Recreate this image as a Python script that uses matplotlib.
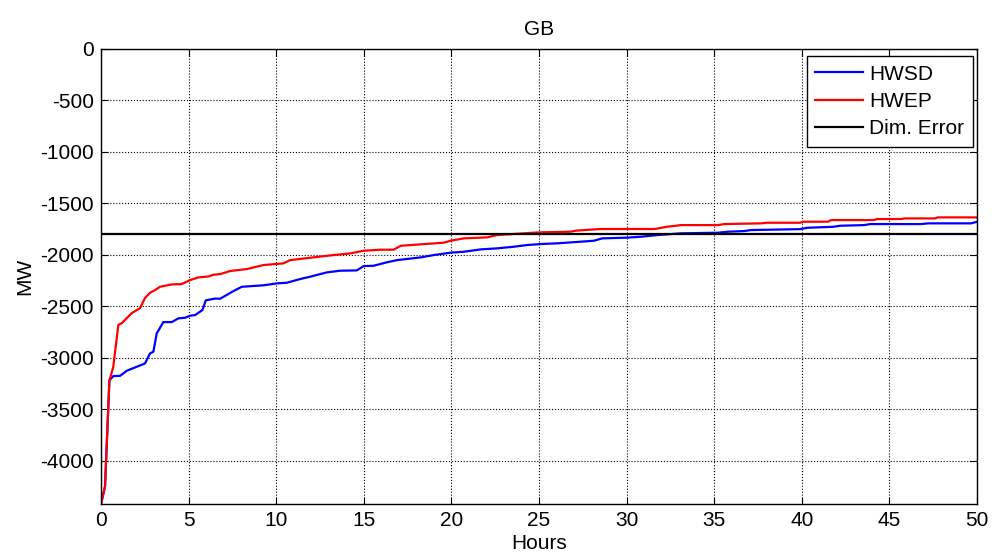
import numpy as np
import matplotlib.pyplot as plt

plt.rcParams['font.family'] = ['Liberation Sans', 'DejaVu Sans']
plt.rcParams['axes.unicode_minus'] = False

# HWSD curve (hours, MW)
hwsd_h = [0, 0.23, 0.48, 0.70, 1.09, 1.47, 1.94, 2.51, 2.80, 2.99, 3.18, 3.56, 4.04,
          4.42, 4.80, 5.09, 5.37, 5.79, 5.98, 6.51, 6.80, 7.56, 8.04, 9.27, 10.04,
          10.6, 11.37, 11.94, 12.9, 13.66, 14.6, 14.99, 15.56, 16.3, 16.9, 18.23,
          18.99, 19.94, 20.7, 21.66, 22.6, 23.56, 24.3, 25.09, 26.04, 26.8, 28.13,
          28.6, 30.0, 30.8, 31.75, 33.1, 35.2, 35.8, 36.7, 37.1, 38.4, 39.9, 40.3,
          41.8, 42.2, 43.56, 43.9, 46.8, 47.2, 49.66, 50]
hwsd_mw = [-4420, -4250, -3220, -3178, -3175, -3126, -3094, -3055, -2957, -2941,
           -2763, -2653, -2653, -2617, -2611, -2591, -2585, -2536, -2442, -2425,
           -2426, -2352, -2310, -2296, -2277, -2271, -2235, -2212, -2170, -2154,
           -2151, -2109, -2106, -2073, -2051, -2025, -2002, -1979, -1970, -1947,
           -1937, -1921, -1905, -1895, -1888, -1879, -1863, -1840, -1833, -1824,
           -1808, -1791, -1785, -1775, -1769, -1759, -1755, -1750, -1737, -1727,
           -1717, -1711, -1701, -1701, -1694, -1694, -1678]

# HWEP curve (hours, MW)
hwep_h = [0, 0.23, 0.48, 0.70, 0.99, 1.18, 1.47, 1.75, 2.23, 2.51, 2.80, 3.09, 3.37,
          4.04, 4.60, 5.09, 5.56, 6.13, 6.42, 6.80, 7.37, 8.32, 9.27, 10.4, 10.8,
          11.94, 13.27, 14.23, 14.99, 15.94, 16.7, 17.1, 18.23, 19.56, 19.94, 20.7,
          22.04, 22.6, 24.13, 25.09, 26.8, 27.1, 28.5, 31.6, 32.3, 33.1, 35.2, 35.56,
          37.66, 38.0, 39.9, 40.1, 41.5, 41.66, 44.1, 44.3, 45.7, 45.85, 47.6, 47.75, 50]
hwep_mw = [-4420, -4250, -3220, -3090, -2680, -2664, -2615, -2567, -2517, -2420,
           -2368, -2342, -2310, -2287, -2284, -2245, -2219, -2210, -2193, -2187,
           -2157, -2138, -2099, -2083, -2051, -2028, -2002, -1986, -1960, -1950,
           -1950, -1912, -1898, -1882, -1863, -1840, -1830, -1808, -1791, -1781,
           -1775, -1765, -1749, -1749, -1727, -1711, -1711, -1701, -1694, -1688,
           -1688, -1678, -1678, -1662, -1662, -1652, -1652, -1646, -1646, -1636, -1636]

dim_error = -1795
x_ticks = np.arange(0, 51, 5)
y_ticks = np.arange(-4000, 1, 500)

fig = plt.figure(figsize=(9.94, 5.54), dpi=100)
ax = fig.add_axes([0.1016, 0.0903, 0.8814, 0.8213])

ax.plot(hwsd_h, hwsd_mw, color='#0000ff', lw=1.6, label='HWSD')
ax.plot(hwep_h, hwep_mw, color='#ff0000', lw=1.6, label='HWEP')
ax.axhline(dim_error, color='black', lw=1.6, label='Dim. Error')

ax.set_xlim(0, 50)
ax.set_ylim(-4420, 0)
ax.set_xticks(x_ticks)
ax.set_yticks(y_ticks)
ax.tick_params(direction='in', top=True, right=True, labelsize=15, length=5, pad=5)
ax.grid(True, color='black', linestyle=':', linewidth=0.8)
for s in ax.spines.values():
    s.set_linewidth(1.0)

ax.set_xlabel('Hours', fontsize=15, labelpad=3)
ax.set_ylabel('MW', fontsize=15, labelpad=4)
ax.set_title('GB', fontsize=15, pad=10)

leg = ax.legend(loc='upper right', bbox_to_anchor=(0.995, 0.984), fontsize=15,
                fancybox=False, framealpha=1, edgecolor='black', borderaxespad=0,
                handlelength=2.3, handletextpad=0.3, labelspacing=0.4, borderpad=0.4)
leg.get_frame().set_linewidth(1.0)

fig.savefig('out.png', dpi=100)
